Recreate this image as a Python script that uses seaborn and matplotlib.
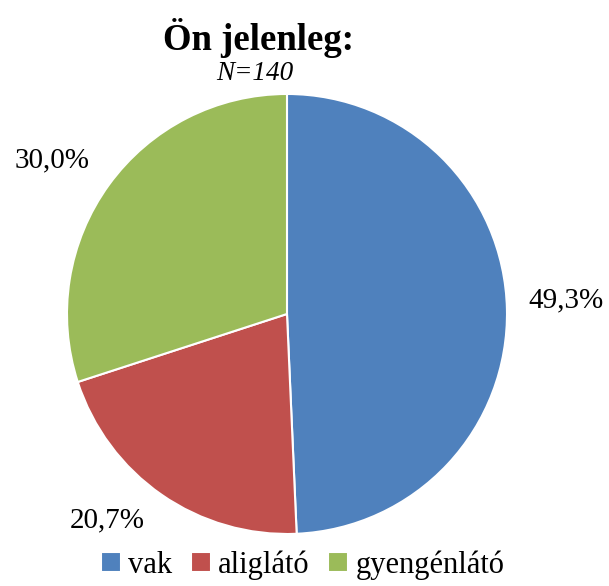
import numpy as np
import matplotlib.pyplot as plt
import seaborn as sns

sns.set_theme(style="white")
plt.rcParams['font.family'] = ['Liberation Serif', 'DejaVu Serif']
plt.rcParams['text.color'] = 'black'

# Data
categories = ['vak', 'aliglátó', 'gyengénlátó']
shares = [49.3, 20.7, 30.0]
label_texts = ['49,3%', '20,7%', '30,0%']
colors = sns.color_palette(['#4F81BD', '#C0504D', '#9BBB59'])

# label placement tweaks (radius, angle offset in degrees)
label_radius = [1.27, 1.245, 1.275]
label_shift = [1.6, -6.4, 2.7]

fig = plt.figure(figsize=(6.09, 5.86), dpi=100)
ax = fig.add_axes([0.110, 0.0887, 0.7225, 0.751])

wedges, _ = ax.pie(shares, colors=colors, startangle=90, counterclock=False,
                   wedgeprops=dict(edgecolor='white', linewidth=1.5))
for w, txt, r, s in zip(wedges, label_texts, label_radius, label_shift):
    ang = np.deg2rad((w.theta1 + w.theta2) / 2 + s)
    ax.text(r * np.cos(ang), r * np.sin(ang), txt, ha='center', va='center',
            fontsize=21, clip_on=False)
ax.set_aspect('equal')
ax.set_xlim(-1, 1)
ax.set_ylim(-1, 1)

fig.text(0.425, 0.935, 'Ön jelenleg:', ha='center', va='center',
         fontsize=26.5, fontweight='bold')
fig.text(0.419, 0.874, 'N=140', ha='center', va='center',
         fontsize=19.5, style='italic')

leg = fig.legend(wedges, categories, loc='lower center', bbox_to_anchor=(0.497, -0.036),
                 ncol=3, frameon=False, fontsize=22, handlelength=0.65,
                 handleheight=0.65, handletextpad=0.25, columnspacing=0.6)

fig.savefig('out.png', dpi=100)
